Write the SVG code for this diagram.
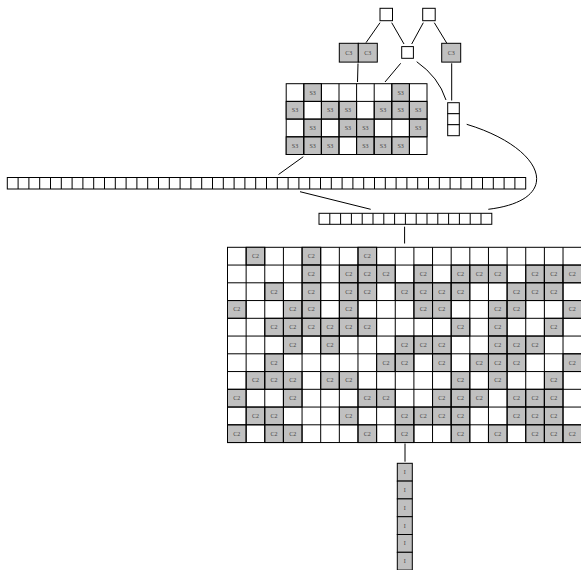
<svg xmlns="http://www.w3.org/2000/svg" width="581" height="570" viewBox="0 0 581 570">
<style>
.w{fill:#fff;stroke:#000;stroke-width:1}
.g{fill:#c0c0c0;stroke:#000;stroke-width:1}
.ln{fill:none;stroke:#000;stroke-width:1}
.t{font-family:"Liberation Serif","Times New Roman",serif;font-size:6px;fill:#444;text-anchor:middle;dominant-baseline:central}
</style>
<rect width="581" height="570" fill="#fff"/>
<g id="connectors" class="ln">
<path d="M380,22.7 L366,42.7"/>
<path d="M391.7,22.7 L404,44"/>
<path d="M423.3,22.7 L411.7,44"/>
<path d="M434.3,22.7 L446.7,43"/>
<path d="M358,63.5 L357.5,82"/>
<path d="M400.7,63.3 L385,82"/>
<path d="M416.7,61.7 Q438.6,77 446,100"/>
<path d="M451.7,63.3 L451.7,100.5"/>
<path d="M466.7,124.3 C545,148 565,200 488.3,209.3"/>
<path d="M303.3,156.7 L278.5,174.5"/>
<path d="M300,191.7 L370.7,209.3"/>
<path d="M404.6,226.7 L404.6,243.5"/>
<path d="M405,443.5 L405,461.7"/>
</g>
<g id="top1"><rect class="w" x="380" y="8.3" width="12.5" height="12.4"/></g>
<g id="top2"><rect class="w" x="422.7" y="8.3" width="12.5" height="12.4"/></g>
<g id="c3pair">
<rect class="g" x="339.3" y="43.3" width="19" height="18.8"/><text class="t" x="348.8" y="52.7">C3</text>
<rect class="g" x="358.3" y="43.3" width="19" height="18.8"/><text class="t" x="367.8" y="52.7">C3</text>
</g>
<g id="mid"><rect class="w" x="401.7" y="46.6" width="11.7" height="11.7"/></g>
<g id="c3right"><rect class="g" x="441.7" y="43.3" width="19" height="18.8"/><text class="t" x="451.2" y="52.7">C3</text></g>
<g id="stack">
<rect class="w" x="447.7" y="102.7" width="11.6" height="11"/>
<rect class="w" x="447.7" y="113.7" width="11.6" height="11"/>
<rect class="w" x="447.7" y="124.7" width="11.6" height="11"/>
</g>
<g id="s3grid">
<rect class="w" x="286.2" y="83.7" width="140.8" height="70.8"/>
<rect class="g" x="303.8" y="83.7" width="17.6" height="17.7"/><text class="t" x="312.6" y="92.55">S3</text>
<rect class="g" x="391.8" y="83.7" width="17.6" height="17.7"/><text class="t" x="400.6" y="92.55">S3</text>
<rect class="g" x="286.2" y="101.4" width="17.6" height="17.7"/><text class="t" x="295" y="110.25">S3</text>
<rect class="g" x="321.4" y="101.4" width="17.6" height="17.7"/><text class="t" x="330.2" y="110.25">S3</text>
<rect class="g" x="339" y="101.4" width="17.6" height="17.7"/><text class="t" x="347.8" y="110.25">S3</text>
<rect class="g" x="374.2" y="101.4" width="17.6" height="17.7"/><text class="t" x="383" y="110.25">S3</text>
<rect class="g" x="391.8" y="101.4" width="17.6" height="17.7"/><text class="t" x="400.6" y="110.25">S3</text>
<rect class="g" x="409.4" y="101.4" width="17.6" height="17.7"/><text class="t" x="418.2" y="110.25">S3</text>
<rect class="g" x="303.8" y="119.1" width="17.6" height="17.7"/><text class="t" x="312.6" y="127.95">S3</text>
<rect class="g" x="339" y="119.1" width="17.6" height="17.7"/><text class="t" x="347.8" y="127.95">S3</text>
<rect class="g" x="356.6" y="119.1" width="17.6" height="17.7"/><text class="t" x="365.4" y="127.95">S3</text>
<rect class="g" x="409.4" y="119.1" width="17.6" height="17.7"/><text class="t" x="418.2" y="127.95">S3</text>
<rect class="g" x="286.2" y="136.8" width="17.6" height="17.7"/><text class="t" x="295" y="145.65">S3</text>
<rect class="g" x="303.8" y="136.8" width="17.6" height="17.7"/><text class="t" x="312.6" y="145.65">S3</text>
<rect class="g" x="321.4" y="136.8" width="17.6" height="17.7"/><text class="t" x="330.2" y="145.65">S3</text>
<rect class="g" x="356.6" y="136.8" width="17.6" height="17.7"/><text class="t" x="365.4" y="145.65">S3</text>
<rect class="g" x="374.2" y="136.8" width="17.6" height="17.7"/><text class="t" x="383" y="145.65">S3</text>
<rect class="g" x="391.8" y="136.8" width="17.6" height="17.7"/><text class="t" x="400.6" y="145.65">S3</text>
<path class="ln" d="M303.8,83.7v70.8M321.4,83.7v70.8M339,83.7v70.8M356.6,83.7v70.8M374.2,83.7v70.8M391.8,83.7v70.8M409.4,83.7v70.8M286.2,101.4h140.8M286.2,119.1h140.8M286.2,136.8h140.8"/>
</g>
<g id="longrow">
<rect class="w" x="7.3" y="177.5" width="518.4" height="11.5"/>
<path class="ln" d="M18.1,177.5v11.5M28.9,177.5v11.5M39.7,177.5v11.5M50.5,177.5v11.5M61.3,177.5v11.5M72.1,177.5v11.5M82.9,177.5v11.5M93.7,177.5v11.5M104.5,177.5v11.5M115.3,177.5v11.5M126.1,177.5v11.5M136.9,177.5v11.5M147.7,177.5v11.5M158.5,177.5v11.5M169.3,177.5v11.5M180.1,177.5v11.5M190.9,177.5v11.5M201.7,177.5v11.5M212.5,177.5v11.5M223.3,177.5v11.5M234.1,177.5v11.5M244.9,177.5v11.5M255.7,177.5v11.5M266.5,177.5v11.5M277.3,177.5v11.5M288.1,177.5v11.5M298.9,177.5v11.5M309.7,177.5v11.5M320.5,177.5v11.5M331.3,177.5v11.5M342.1,177.5v11.5M352.9,177.5v11.5M363.7,177.5v11.5M374.5,177.5v11.5M385.3,177.5v11.5M396.1,177.5v11.5M406.9,177.5v11.5M417.7,177.5v11.5M428.5,177.5v11.5M439.3,177.5v11.5M450.1,177.5v11.5M460.9,177.5v11.5M471.7,177.5v11.5M482.5,177.5v11.5M493.3,177.5v11.5M504.1,177.5v11.5M514.9,177.5v11.5"/>
</g>
<g id="midrow">
<rect class="w" x="319" y="213.3" width="172.8" height="11"/>
<path class="ln" d="M329.8,213.3v11M340.6,213.3v11M351.4,213.3v11M362.2,213.3v11M373,213.3v11M383.8,213.3v11M394.6,213.3v11M405.4,213.3v11M416.2,213.3v11M427,213.3v11M437.8,213.3v11M448.6,213.3v11M459.4,213.3v11M470.2,213.3v11M481,213.3v11"/>
</g>
<g id="c2grid">
<rect class="w" x="227.5" y="247.3" width="354.16" height="195.25"/>
<g class="g">
<rect x="246.14" y="247.3" width="18.64" height="17.75"/><rect x="302.06" y="247.3" width="18.64" height="17.75"/><rect x="357.98" y="247.3" width="18.64" height="17.75"/>
<rect x="302.06" y="265.05" width="18.64" height="17.75"/><rect x="339.34" y="265.05" width="18.64" height="17.75"/><rect x="357.98" y="265.05" width="18.64" height="17.75"/><rect x="376.62" y="265.05" width="18.64" height="17.75"/><rect x="413.9" y="265.05" width="18.64" height="17.75"/><rect x="451.18" y="265.05" width="18.64" height="17.75"/><rect x="469.82" y="265.05" width="18.64" height="17.75"/><rect x="488.46" y="265.05" width="18.64" height="17.75"/><rect x="525.74" y="265.05" width="18.64" height="17.75"/><rect x="544.38" y="265.05" width="18.64" height="17.75"/><rect x="563.02" y="265.05" width="18.64" height="17.75"/>
<rect x="264.78" y="282.8" width="18.64" height="17.75"/><rect x="302.06" y="282.8" width="18.64" height="17.75"/><rect x="339.34" y="282.8" width="18.64" height="17.75"/><rect x="357.98" y="282.8" width="18.64" height="17.75"/><rect x="395.26" y="282.8" width="18.64" height="17.75"/><rect x="413.9" y="282.8" width="18.64" height="17.75"/><rect x="432.54" y="282.8" width="18.64" height="17.75"/><rect x="451.18" y="282.8" width="18.64" height="17.75"/><rect x="507.1" y="282.8" width="18.64" height="17.75"/><rect x="525.74" y="282.8" width="18.64" height="17.75"/><rect x="544.38" y="282.8" width="18.64" height="17.75"/>
<rect x="227.5" y="300.55" width="18.64" height="17.75"/><rect x="283.42" y="300.55" width="18.64" height="17.75"/><rect x="302.06" y="300.55" width="18.64" height="17.75"/><rect x="339.34" y="300.55" width="18.64" height="17.75"/><rect x="413.9" y="300.55" width="18.64" height="17.75"/><rect x="432.54" y="300.55" width="18.64" height="17.75"/><rect x="488.46" y="300.55" width="18.64" height="17.75"/><rect x="507.1" y="300.55" width="18.64" height="17.75"/><rect x="563.02" y="300.55" width="18.64" height="17.75"/>
<rect x="264.78" y="318.3" width="18.64" height="17.75"/><rect x="283.42" y="318.3" width="18.64" height="17.75"/><rect x="302.06" y="318.3" width="18.64" height="17.75"/><rect x="320.7" y="318.3" width="18.64" height="17.75"/><rect x="339.34" y="318.3" width="18.64" height="17.75"/><rect x="357.98" y="318.3" width="18.64" height="17.75"/><rect x="451.18" y="318.3" width="18.64" height="17.75"/><rect x="488.46" y="318.3" width="18.64" height="17.75"/><rect x="544.38" y="318.3" width="18.64" height="17.75"/>
<rect x="283.42" y="336.05" width="18.64" height="17.75"/><rect x="320.7" y="336.05" width="18.64" height="17.75"/><rect x="395.26" y="336.05" width="18.64" height="17.75"/><rect x="413.9" y="336.05" width="18.64" height="17.75"/><rect x="432.54" y="336.05" width="18.64" height="17.75"/><rect x="488.46" y="336.05" width="18.64" height="17.75"/><rect x="507.1" y="336.05" width="18.64" height="17.75"/><rect x="525.74" y="336.05" width="18.64" height="17.75"/>
<rect x="264.78" y="353.8" width="18.64" height="17.75"/><rect x="376.62" y="353.8" width="18.64" height="17.75"/><rect x="395.26" y="353.8" width="18.64" height="17.75"/><rect x="432.54" y="353.8" width="18.64" height="17.75"/><rect x="469.82" y="353.8" width="18.64" height="17.75"/><rect x="488.46" y="353.8" width="18.64" height="17.75"/><rect x="507.1" y="353.8" width="18.64" height="17.75"/><rect x="563.02" y="353.8" width="18.64" height="17.75"/>
<rect x="246.14" y="371.55" width="18.64" height="17.75"/><rect x="264.78" y="371.55" width="18.64" height="17.75"/><rect x="283.42" y="371.55" width="18.64" height="17.75"/><rect x="320.7" y="371.55" width="18.64" height="17.75"/><rect x="339.34" y="371.55" width="18.64" height="17.75"/><rect x="451.18" y="371.55" width="18.64" height="17.75"/><rect x="488.46" y="371.55" width="18.64" height="17.75"/><rect x="544.38" y="371.55" width="18.64" height="17.75"/>
<rect x="227.5" y="389.3" width="18.64" height="17.75"/><rect x="283.42" y="389.3" width="18.64" height="17.75"/><rect x="357.98" y="389.3" width="18.64" height="17.75"/><rect x="376.62" y="389.3" width="18.64" height="17.75"/><rect x="432.54" y="389.3" width="18.64" height="17.75"/><rect x="451.18" y="389.3" width="18.64" height="17.75"/><rect x="469.82" y="389.3" width="18.64" height="17.75"/><rect x="507.1" y="389.3" width="18.64" height="17.75"/><rect x="525.74" y="389.3" width="18.64" height="17.75"/><rect x="544.38" y="389.3" width="18.64" height="17.75"/>
<rect x="246.14" y="407.05" width="18.64" height="17.75"/><rect x="264.78" y="407.05" width="18.64" height="17.75"/><rect x="339.34" y="407.05" width="18.64" height="17.75"/><rect x="395.26" y="407.05" width="18.64" height="17.75"/><rect x="413.9" y="407.05" width="18.64" height="17.75"/><rect x="432.54" y="407.05" width="18.64" height="17.75"/><rect x="451.18" y="407.05" width="18.64" height="17.75"/><rect x="507.1" y="407.05" width="18.64" height="17.75"/><rect x="525.74" y="407.05" width="18.64" height="17.75"/><rect x="544.38" y="407.05" width="18.64" height="17.75"/>
<rect x="227.5" y="424.8" width="18.64" height="17.75"/><rect x="264.78" y="424.8" width="18.64" height="17.75"/><rect x="283.42" y="424.8" width="18.64" height="17.75"/><rect x="357.98" y="424.8" width="18.64" height="17.75"/><rect x="395.26" y="424.8" width="18.64" height="17.75"/><rect x="451.18" y="424.8" width="18.64" height="17.75"/><rect x="488.46" y="424.8" width="18.64" height="17.75"/><rect x="525.74" y="424.8" width="18.64" height="17.75"/><rect x="544.38" y="424.8" width="18.64" height="17.75"/><rect x="563.02" y="424.8" width="18.64" height="17.75"/>
</g>
<path class="ln" d="M246.14,247.3v195.25M264.78,247.3v195.25M283.42,247.3v195.25M302.06,247.3v195.25M320.7,247.3v195.25M339.34,247.3v195.25M357.98,247.3v195.25M376.62,247.3v195.25M395.26,247.3v195.25M413.9,247.3v195.25M432.54,247.3v195.25M451.18,247.3v195.25M469.82,247.3v195.25M488.46,247.3v195.25M507.1,247.3v195.25M525.74,247.3v195.25M544.38,247.3v195.25M563.02,247.3v195.25M227.5,265.05h354.16M227.5,282.8h354.16M227.5,300.55h354.16M227.5,318.3h354.16M227.5,336.05h354.16M227.5,353.8h354.16M227.5,371.55h354.16M227.5,389.3h354.16M227.5,407.05h354.16M227.5,424.8h354.16"/>
<g class="t">
<text x="255.46" y="256.18">C2</text><text x="311.38" y="256.18">C2</text><text x="367.3" y="256.18">C2</text>
<text x="311.38" y="273.93">C2</text><text x="348.66" y="273.93">C2</text><text x="367.3" y="273.93">C2</text><text x="385.94" y="273.93">C2</text><text x="423.22" y="273.93">C2</text><text x="460.5" y="273.93">C2</text><text x="479.14" y="273.93">C2</text><text x="497.78" y="273.93">C2</text><text x="535.06" y="273.93">C2</text><text x="553.7" y="273.93">C2</text><text x="572.34" y="273.93">C2</text>
<text x="274.1" y="291.68">C2</text><text x="311.38" y="291.68">C2</text><text x="348.66" y="291.68">C2</text><text x="367.3" y="291.68">C2</text><text x="404.58" y="291.68">C2</text><text x="423.22" y="291.68">C2</text><text x="441.86" y="291.68">C2</text><text x="460.5" y="291.68">C2</text><text x="516.42" y="291.68">C2</text><text x="535.06" y="291.68">C2</text><text x="553.7" y="291.68">C2</text>
<text x="236.82" y="309.43">C2</text><text x="292.74" y="309.43">C2</text><text x="311.38" y="309.43">C2</text><text x="348.66" y="309.43">C2</text><text x="423.22" y="309.43">C2</text><text x="441.86" y="309.43">C2</text><text x="497.78" y="309.43">C2</text><text x="516.42" y="309.43">C2</text><text x="572.34" y="309.43">C2</text>
<text x="274.1" y="327.18">C2</text><text x="292.74" y="327.18">C2</text><text x="311.38" y="327.18">C2</text><text x="330.02" y="327.18">C2</text><text x="348.66" y="327.18">C2</text><text x="367.3" y="327.18">C2</text><text x="460.5" y="327.18">C2</text><text x="497.78" y="327.18">C2</text><text x="553.7" y="327.18">C2</text>
<text x="292.74" y="344.93">C2</text><text x="330.02" y="344.93">C2</text><text x="404.58" y="344.93">C2</text><text x="423.22" y="344.93">C2</text><text x="441.86" y="344.93">C2</text><text x="497.78" y="344.93">C2</text><text x="516.42" y="344.93">C2</text><text x="535.06" y="344.93">C2</text>
<text x="274.1" y="362.68">C2</text><text x="385.94" y="362.68">C2</text><text x="404.58" y="362.68">C2</text><text x="441.86" y="362.68">C2</text><text x="479.14" y="362.68">C2</text><text x="497.78" y="362.68">C2</text><text x="516.42" y="362.68">C2</text><text x="572.34" y="362.68">C2</text>
<text x="255.46" y="380.43">C2</text><text x="274.1" y="380.43">C2</text><text x="292.74" y="380.43">C2</text><text x="330.02" y="380.43">C2</text><text x="348.66" y="380.43">C2</text><text x="460.5" y="380.43">C2</text><text x="497.78" y="380.43">C2</text><text x="553.7" y="380.43">C2</text>
<text x="236.82" y="398.18">C2</text><text x="292.74" y="398.18">C2</text><text x="367.3" y="398.18">C2</text><text x="385.94" y="398.18">C2</text><text x="441.86" y="398.18">C2</text><text x="460.5" y="398.18">C2</text><text x="479.14" y="398.18">C2</text><text x="516.42" y="398.18">C2</text><text x="535.06" y="398.18">C2</text><text x="553.7" y="398.18">C2</text>
<text x="255.46" y="415.93">C2</text><text x="274.1" y="415.93">C2</text><text x="348.66" y="415.93">C2</text><text x="404.58" y="415.93">C2</text><text x="423.22" y="415.93">C2</text><text x="441.86" y="415.93">C2</text><text x="460.5" y="415.93">C2</text><text x="516.42" y="415.93">C2</text><text x="535.06" y="415.93">C2</text><text x="553.7" y="415.93">C2</text>
<text x="236.82" y="433.68">C2</text><text x="274.1" y="433.68">C2</text><text x="292.74" y="433.68">C2</text><text x="367.3" y="433.68">C2</text><text x="404.58" y="433.68">C2</text><text x="460.5" y="433.68">C2</text><text x="497.78" y="433.68">C2</text><text x="535.06" y="433.68">C2</text><text x="553.7" y="433.68">C2</text><text x="572.34" y="433.68">C2</text>
</g>
</g>
<g id="column">
<rect class="g" x="397.3" y="463.3" width="15" height="17.8"/><text class="t" x="404.8" y="472.2">I</text>
<rect class="g" x="397.3" y="481.1" width="15" height="17.8"/><text class="t" x="404.8" y="490">I</text>
<rect class="g" x="397.3" y="498.9" width="15" height="17.8"/><text class="t" x="404.8" y="507.8">I</text>
<rect class="g" x="397.3" y="516.7" width="15" height="17.8"/><text class="t" x="404.8" y="525.6">I</text>
<rect class="g" x="397.3" y="534.5" width="15" height="17.8"/><text class="t" x="404.8" y="543.4">I</text>
<rect class="g" x="397.3" y="552.3" width="15" height="17.8"/><text class="t" x="404.8" y="561.2">I</text>
</g>
</svg>
